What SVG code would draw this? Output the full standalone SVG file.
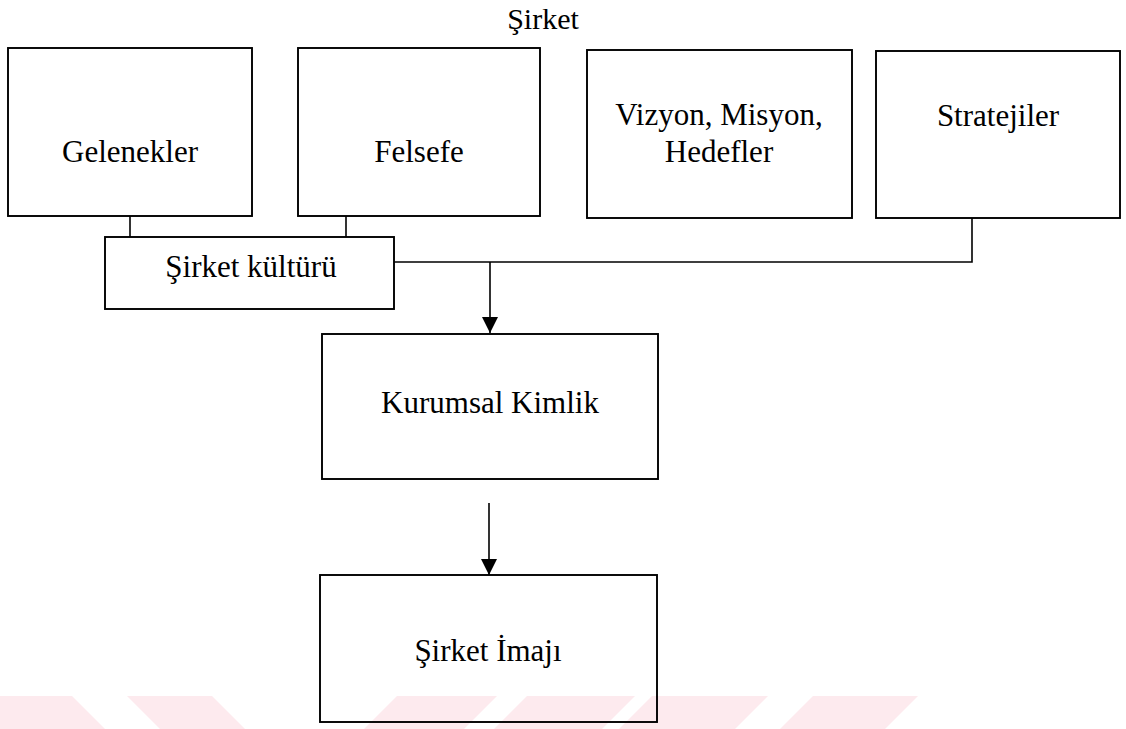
<svg xmlns="http://www.w3.org/2000/svg" width="1126" height="729" viewBox="0 0 1126 729">
<style>
.box{fill:none;stroke:#000;stroke-width:1.9}
.ln{fill:none;stroke:#000;stroke-width:1.6}
.t{font-family:"Liberation Serif","Times New Roman",serif;font-size:31px;fill:#000;text-anchor:middle}
.wm{fill:#fdeaee}
</style>
<defs>
<marker id="ah" markerUnits="userSpaceOnUse" markerWidth="16" markerHeight="16" viewBox="0 0 16 16" refX="16" refY="8" orient="auto">
<path d="M0,0 L16,8 L0,16 Z" fill="#000"/>
</marker>
</defs>
<rect width="1126" height="729" fill="#fff"/>
<g id="watermark">
<polygon class="wm" points="-40,696 72,696 105,729 -7,729"/>
<polygon class="wm" points="127,696 212,696 245,729 160,729"/>
<polygon class="wm" points="397,696 497,696 464,729 364,729"/>
<polygon class="wm" points="527,696 635,696 602,729 494,729"/>
<polygon class="wm" points="652,696 768,696 735,729 619,729"/>
<polygon class="wm" points="813,696 918,696 885,729 780,729"/>
</g>
<text id="title" class="t" x="543" y="29" style="font-size:30px">Şirket</text>
<g id="connectors">
<line class="ln" x1="130" y1="216" x2="130" y2="237"/>
<line class="ln" x1="346" y1="216" x2="346" y2="237"/>
<polyline class="ln" points="394,262 972,262 972,218"/>
<line class="ln" x1="490" y1="262" x2="490" y2="333" marker-end="url(#ah)"/>
<line class="ln" x1="489" y1="503" x2="489" y2="575" marker-end="url(#ah)"/>
</g>
<g id="gelenekler">
<rect class="box" x="8" y="48" width="244" height="168"/>
<text class="t" x="130" y="162">Gelenekler</text>
</g>
<g id="felsefe">
<rect class="box" x="298" y="48" width="242" height="168"/>
<text class="t" x="419" y="162">Felsefe</text>
</g>
<g id="vizyon">
<rect class="box" x="587" y="50" width="265" height="168"/>
<text class="t" x="719" y="125">Vizyon, Misyon,</text>
<text class="t" x="719" y="162">Hedefler</text>
</g>
<g id="stratejiler">
<rect class="box" x="876" y="51" width="244" height="167"/>
<text class="t" x="998" y="126">Stratejiler</text>
</g>
<g id="kultur">
<rect class="box" x="105" y="237" width="289" height="72"/>
<text class="t" x="251" y="277">Şirket kültürü</text>
</g>
<g id="kurumsal">
<rect class="box" x="322" y="334" width="336" height="145"/>
<text class="t" x="490" y="413">Kurumsal Kimlik</text>
</g>
<g id="imaj">
<rect class="box" x="320" y="575" width="337" height="147"/>
<text class="t" x="488" y="661">Şirket İmajı</text>
</g>
</svg>
